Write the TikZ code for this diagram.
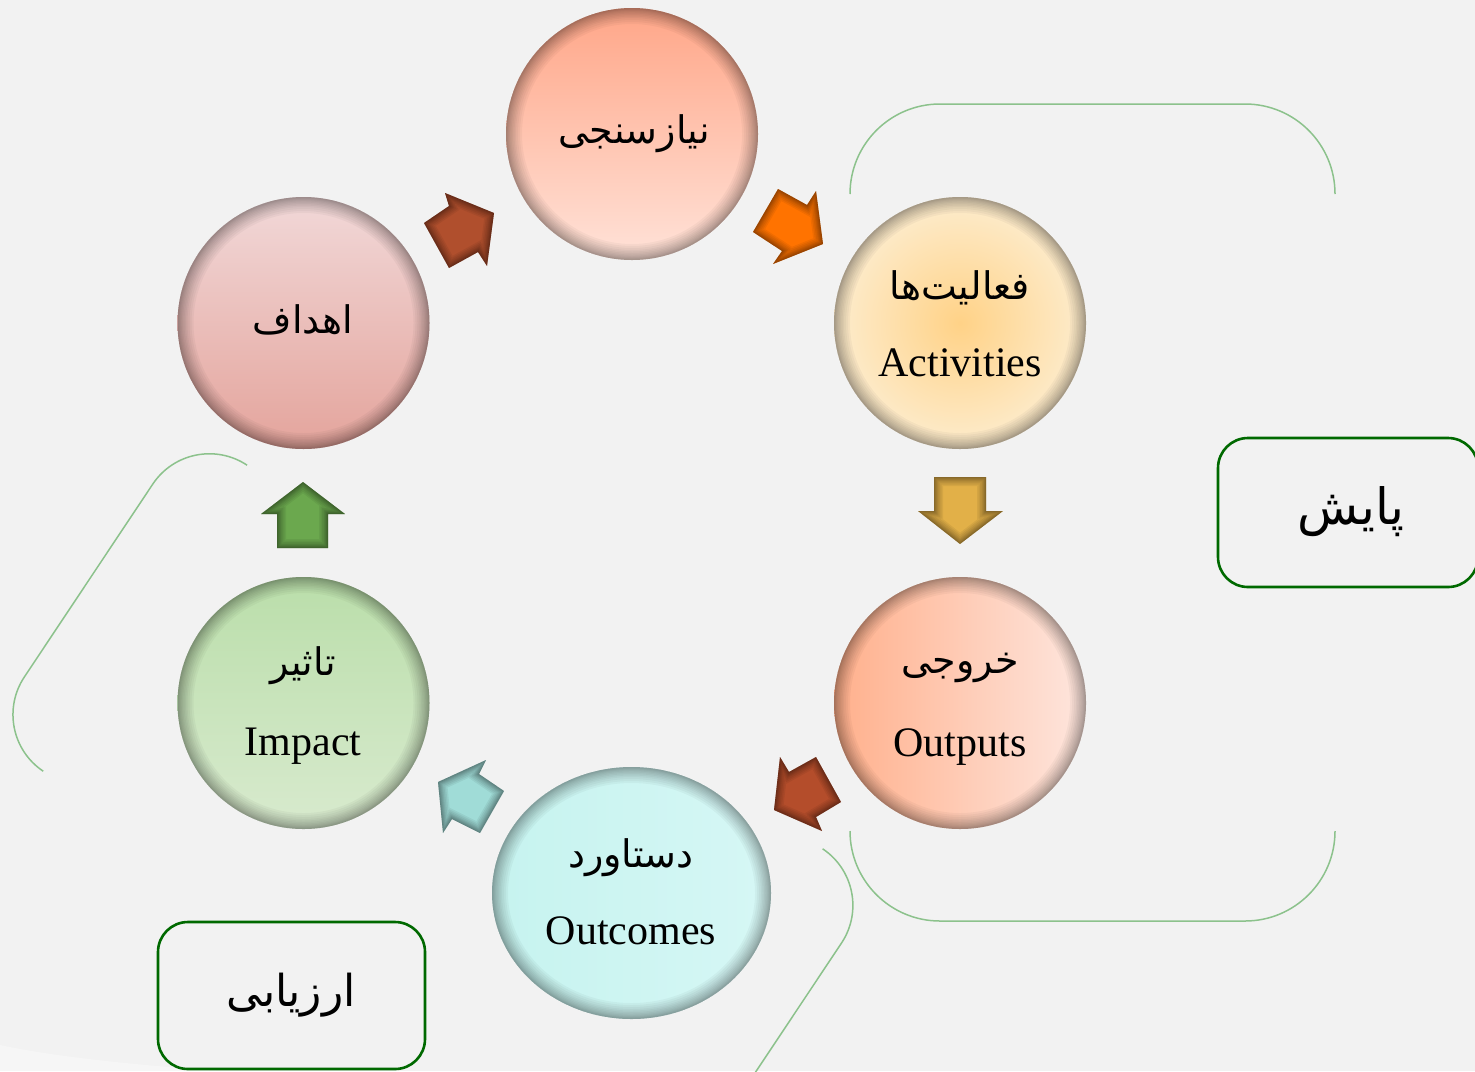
\documentclass[tikz,border=0pt]{standalone}
\usepackage{fontspec}
\setmainfont{Liberation Serif}
\newfontfamily\pfont[Script=Arabic]{DejaVu Sans}
\TeXXeTstate=1
\usetikzlibrary{shapes.geometric}
\definecolor{bg}{RGB}{242,242,242}
\definecolor{brk}{RGB}{140,194,140}
\definecolor{boxgreen}{RGB}{0,105,0}
\definecolor{aBrown}{RGB}{176,79,45}
\definecolor{aOrange}{RGB}{255,115,0}
\definecolor{aBrownB}{RGB}{180,77,43}
\definecolor{aTeal}{RGB}{160,220,215}
\definecolor{aGreen}{RGB}{107,168,78}
\definecolor{aGold}{RGB}{226,176,72}
\tikzset{
  bracket/.style={draw=brk, line width=0.75pt},
  labelbox/.style={draw=boxgreen, line width=1.3pt, rounded corners=15pt},
  entext/.style={font=\fontsize{21}{24}\selectfont, inner sep=0pt, anchor=base},
  fatext/.style={font=\fontsize{19}{22}\selectfont\pfont, inner sep=0pt},
  boxtext/.style={font=\fontsize{22}{26}\selectfont\pfont, inner sep=0pt},
}
\newcommand\innershade[1]{%
  \begin{scope}
    \clip #1;
    \foreach \w in {16,14,12,10,8.5,7,5.5,4.2,3,2,1.2}
      \draw[line width=\w pt, black, opacity=0.035] #1;
  \end{scope}}
\newcommand\arrowshade[1]{%
  \begin{scope}
    \clip #1;
    \foreach \w in {9,7.5,6,4.5,3.5,2.5,1.6,0.9}
      \draw[line width=\w pt, black, opacity=0.06] #1;
  \end{scope}}
\begin{document}
\begin{tikzpicture}[x=0.5pt,y=-0.5pt]
\useasboundingbox (0,0) rectangle (1475,1071);
\fill[bg] (0,0) rectangle (1475,1071);
\fill[white, opacity=0.35] (0,1045) .. controls (60,1058) and (150,1066) .. (220,1071) -- (0,1071) -- cycle;

% brackets
\draw[bracket] (850,194) arc[start angle=180, end angle=270, radius=90] -- (1245,104) arc[start angle=270, end angle=360, radius=90];
\draw[bracket] (850,831) arc[start angle=180, end angle=90, radius=90] -- (1245,921) arc[start angle=90, end angle=0, radius=90];
\draw[bracket] (247.1,465.2) arc[start angle=-56.3, end angle=-146.3, radius=68] -- (24.4,676.9) arc[start angle=213.7, end angle=123.7, radius=68];
\draw[bracket] (822.6,848.8) arc[start angle=-56.3, end angle=33.7, radius=68] -- (713,1136);

% orbs
\shade[top color={rgb,255:red,255;green,166;blue,136}, bottom color={rgb,255:red,255;green,226;blue,216}] (632,134) circle[radius=126];
\innershade{(632,134) circle[radius=126]}
\shade[inner color={rgb,255:red,255;green,210;blue,135}, outer color={rgb,255:red,253;green,236;blue,205}] (960,323) circle[radius=126];
\innershade{(960,323) circle[radius=126]}
\shade[left color={rgb,255:red,255;green,176;blue,140}, right color={rgb,255:red,254;green,230;blue,222}] (960,703) circle[radius=126];
\innershade{(960,703) circle[radius=126]}
\shade[left color={rgb,255:red,198;green,243;blue,239}, right color={rgb,255:red,214;green,247;blue,245}] (631.5,893) ellipse[x radius=139.5, y radius=126];
\innershade{(631.5,893) ellipse[x radius=139.5, y radius=126]}
\shade[top color={rgb,255:red,186;green,222;blue,170}, bottom color={rgb,255:red,216;green,234;blue,206}] (303.5,703) circle[radius=126];
\innershade{(303.5,703) circle[radius=126]}
\shade[top color={rgb,255:red,241;green,216;blue,216}, bottom color={rgb,255:red,228;green,164;blue,156}] (303.5,323) circle[radius=126];
\innershade{(303.5,323) circle[radius=126]}

% arrows
\fill[aBrown] (445,193) -- (494,213) -- (487,266) -- (478,252) -- (449,268) -- (424,223) -- (449,206) -- cycle;
\arrowshade{(445,193) -- (494,213) -- (487,266) -- (478,252) -- (449,268) -- (424,223) -- (449,206) -- cycle}
\fill[aOrange] (778,189) -- (807,205) -- (816,191) -- (823,244) -- (773,264) -- (782,251) -- (753,232) -- cycle;
\arrowshade{(778,189) -- (807,205) -- (816,191) -- (823,244) -- (773,264) -- (782,251) -- (753,232) -- cycle}
\fill[aBrownB] (780,757) -- (789,772) -- (816,757) -- (841,802) -- (816,817) -- (822,831) -- (774,810) -- cycle;
\arrowshade{(780,757) -- (789,772) -- (816,757) -- (841,802) -- (816,817) -- (822,831) -- (774,810) -- cycle}
\fill[aTeal] (486,760) -- (479,774) -- (504,791) -- (480,833) -- (452,819) -- (443,833) -- (438,782) -- cycle;
\arrowshade{(486,760) -- (479,774) -- (504,791) -- (480,833) -- (452,819) -- (443,833) -- (438,782) -- cycle}
\fill[aGreen] (261,514) -- (303,482) -- (345,514) -- (328,514) -- (328,548) -- (277,548) -- (277,514) -- cycle;
\arrowshade{(261,514) -- (303,482) -- (345,514) -- (328,514) -- (328,548) -- (277,548) -- (277,514) -- cycle}
\fill[aGold] (934,477) -- (986,477) -- (986,511) -- (1003,511) -- (960,544) -- (918,511) -- (934,511) -- cycle;
\arrowshade{(934,477) -- (986,477) -- (986,511) -- (1003,511) -- (960,544) -- (918,511) -- (934,511) -- cycle}

% texts
\node[fatext] (needs) at (634,134) {\beginR نیازسنجی\endR};
\node[fatext] (actfa) at (960,288) {\beginR فعالیت‌ها\endR};
\node[entext] (acten) at (960,376) {Activities};
\node[fatext] (outfa) at (960,668) {\beginR خروجی\endR};
\node[entext] (outen) at (960,756) {Outputs};
\node[fatext] (ocfa) at (631,858) {\beginR دستاورد\endR};
\node[entext] (ocen) at (631,944) {Outcomes};
\node[fatext] (impfa) at (303,666) {\beginR تاثیر\endR};
\node[entext] (impen) at (303,755) {Impact};
\node[fatext] (goals) at (303,320) {\beginR اهداف\endR};

% label boxes
\draw[labelbox] (1218,438) rectangle (1478,587);
\node[boxtext, font=\fontsize{25}{28}\selectfont\pfont] (monitor) at (1351,512) {\beginR پایش\endR};
\draw[labelbox] (158,922) rectangle (425,1069);
\node[boxtext] (evalu) at (291,995) {\beginR ارزیابی\endR};
\end{tikzpicture}
\end{document}
